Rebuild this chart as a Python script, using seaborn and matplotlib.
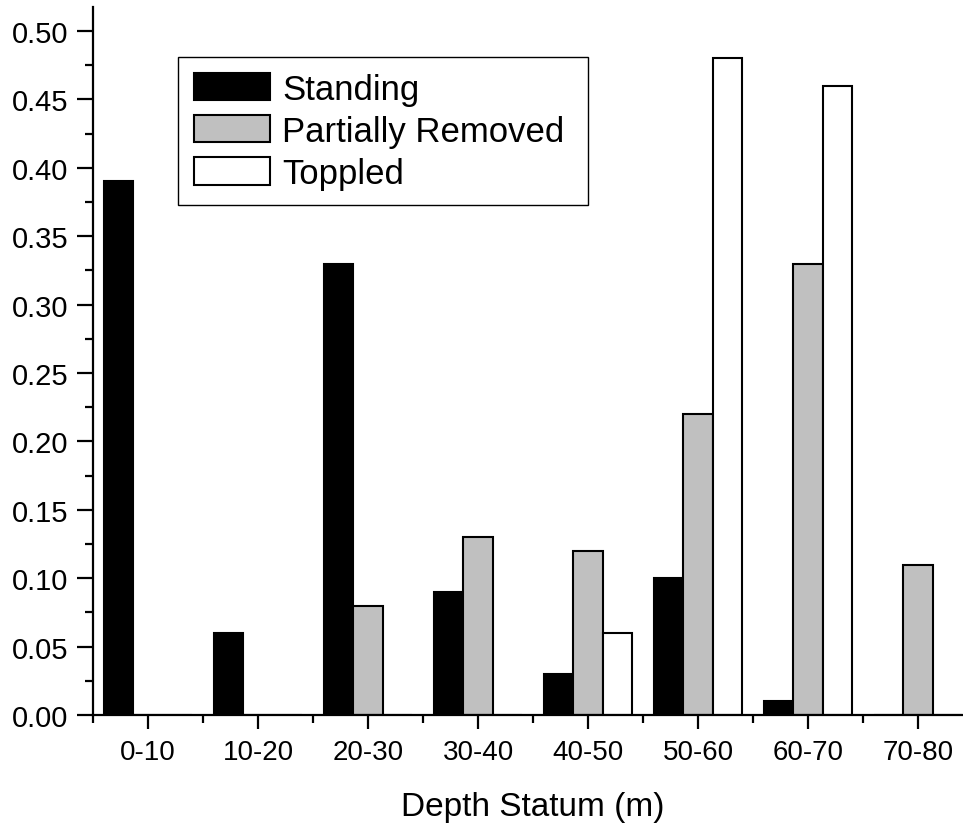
import matplotlib
matplotlib.use('Agg')
import matplotlib.pyplot as plt
import pandas as pd
import seaborn as sns
from matplotlib.ticker import MultipleLocator, FixedLocator

depth = ['0-10', '10-20', '20-30', '30-40', '40-50', '50-60', '60-70', '70-80']
standing = [0.39, 0.06, 0.33, 0.09, 0.03, 0.10, 0.01, 0.00]
partially_removed = [0.00, 0.00, 0.08, 0.13, 0.12, 0.22, 0.33, 0.11]
toppled = [0.00, 0.00, 0.00, 0.00, 0.06, 0.48, 0.46, 0.00]
status = ['Standing', 'Partially Removed', 'Toppled']
colors = ['black', '#c0c0c0', 'white']

df = pd.DataFrame({'depth': depth * 3,
                   'status': [s for s in status for _ in depth],
                   'value': standing + partially_removed + toppled})

sns.set_style('ticks')
plt.rcParams['font.family'] = ['Liberation Sans', 'DejaVu Sans']
plt.rcParams['text.color'] = 'black'
plt.rcParams['axes.labelcolor'] = 'black'
plt.rcParams['xtick.color'] = 'black'
plt.rcParams['ytick.color'] = 'black'

fig = plt.figure(figsize=(9.63, 8.29), dpi=100)
ax = fig.add_axes([0.0966, 0.1363, 0.9138, 0.854])

sns.barplot(data=df, x='depth', y='value', hue='status', order=depth,
            hue_order=status, palette=colors, edgecolor='black',
            linewidth=1.5, width=0.8, ax=ax)

ax.set_xlim(-0.5, 7.5)
ax.set_ylim(0, 0.5175)
ax.yaxis.set_major_locator(MultipleLocator(0.05))
ax.yaxis.set_minor_locator(MultipleLocator(0.025))
ax.yaxis.set_major_formatter(matplotlib.ticker.FormatStrFormatter('%.2f'))
ax.xaxis.set_minor_locator(FixedLocator([i + 0.5 for i in range(-1, 8)]))

for side in ['top', 'right']:
    ax.spines[side].set_visible(False)
for side in ['left', 'bottom']:
    ax.spines[side].set_linewidth(1.6)
    ax.spines[side].set_color('black')

ax.tick_params(axis='y', which='major', length=11.5, width=1.6, labelsize=21, pad=6)
ax.tick_params(axis='y', which='minor', length=6, width=1.6)
ax.tick_params(axis='x', which='major', length=10, width=1.6, labelsize=20, pad=7)
ax.tick_params(axis='x', which='minor', length=6, width=1.6)

ax.set_xlabel('Depth Statum (m)', fontsize=24, labelpad=19)
ax.set_ylabel('')

# legend box: left 178px, right 588px, top 58px
handles, labels = ax.get_legend_handles_labels()
ax.legend(handles, labels, loc='upper left',
          bbox_to_anchor=(178 / 963, 1 - 203 / 829, 410 / 963, 145 / 829),
          mode='expand', bbox_transform=fig.transFigure, borderaxespad=0,
          fontsize=25, frameon=True, fancybox=False, edgecolor='black',
          framealpha=1, handlelength=2.2, handleheight=0.85,
          handletextpad=0.35, labelspacing=0.26, borderpad=0.45)
ax.get_legend().get_frame().set_linewidth(1.0)

fig.savefig('out.png', dpi=100)
